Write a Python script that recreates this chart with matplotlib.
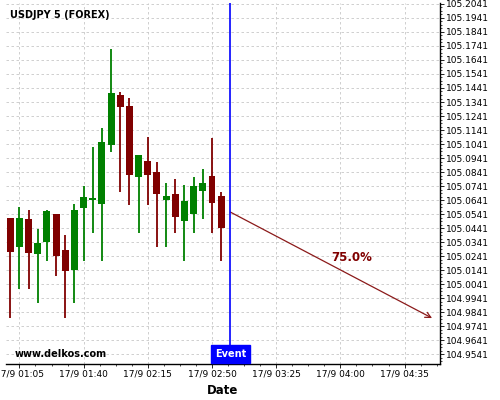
import pandas as pd
import numpy as np
import matplotlib
matplotlib.use("Agg")
import matplotlib.pyplot as plt
import matplotlib.dates as mdates
from matplotlib.ticker import AutoMinorLocator, FixedLocator
import matplotlib.transforms as mtransforms

# 5 minute candles, 17/9
vreme = ["01:00", "01:05", "01:10", "01:15", "01:20", "01:25", "01:30", "01:35",
         "01:40", "01:45", "01:50", "01:55", "02:00", "02:05", "02:10", "02:15",
         "02:20", "02:25", "02:30", "02:35", "02:40", "02:45", "02:50", "02:55"]
odpri = [105.0512, 105.0305, 105.0505, 105.0255, 105.0341, 105.0541, 105.0284, 105.0141,
         105.0584, 105.0641, 105.0612, 105.1034, 105.1391, 105.1312, 105.0805, 105.0920,
         105.0841, 105.0641, 105.0684, 105.0491, 105.0541, 105.0705, 105.0812, 105.0670]
zapri = [105.0272, 105.0512, 105.0262, 105.0334, 105.0562, 105.0241, 105.0134, 105.0570,
         105.0662, 105.0655, 105.1055, 105.1405, 105.1305, 105.0820, 105.0962, 105.0820,
         105.0684, 105.0670, 105.0520, 105.0634, 105.0741, 105.0762, 105.0620, 105.0441]
visoko = [105.0512, 105.0591, 105.0570, 105.0434, 105.0570, 105.0541, 105.0391, 105.0612,
          105.0741, 105.1020, 105.1155, 105.1720, 105.1412, 105.1370, 105.0962, 105.1091,
          105.0912, 105.0762, 105.0791, 105.0748, 105.0805, 105.0862, 105.1084, 105.0698]
nizko = [104.9798, 105.0005, 105.0005, 104.9905, 105.0205, 105.0098, 104.9798, 104.9905,
         105.0205, 105.0405, 105.0205, 105.0984, 105.0698, 105.0605, 105.0405, 105.0605,
         105.0305, 105.0305, 105.0405, 105.0205, 105.0405, 105.0505, 105.0405, 105.0205]

dogodek = "03:00"
puscica_zacetek = ("03:00", 105.0555)
puscica_konec = ("04:50", 104.9798)
napis_cas = ("04:06", 105.0227)
napis = "75.0%"

oznake_x = ["01:05", "01:40", "02:15", "02:50", "03:25", "04:00", "04:35"]
meja_x = ("00:57:40", "04:54:20")
meja_y = (104.9470, 105.2048)
prvi_tick_y = 104.9541

zelena = "#008000"
rdeca = "#800000"


def cas(t):
    return pd.Timestamp("2015-09-17 " + t)


df = pd.DataFrame({"cas": [cas(t) for t in vreme], "o": odpri, "c": zapri,
                   "h": visoko, "l": nizko})

fig = plt.figure(figsize=(5, 4), dpi=100)
ax = fig.add_axes([0.012, 0.09, 0.868, 0.9025])

sirina = pd.Timedelta(minutes=3.8)
for _, r in df.iterrows():
    barva = zelena if r["c"] >= r["o"] else rdeca
    ax.vlines(r["cas"], r["l"], r["h"], color=barva, linewidth=1.3, zorder=3)
    spodaj = min(r["o"], r["c"])
    visina = max(abs(r["c"] - r["o"]), 0.0003)
    ax.bar(r["cas"], visina, bottom=spodaj, width=sirina, color=barva, zorder=4)

# event line
ax.axvline(cas(dogodek), color="blue", linewidth=1.2, zorder=5)
tr = mtransforms.blended_transform_factory(ax.transData, ax.transAxes)
ax.text(cas(dogodek), 0.013, "Event", transform=tr, ha="center", va="bottom",
        color="white", fontsize=7, fontweight="bold", zorder=6,
        bbox=dict(facecolor="blue", edgecolor="blue", boxstyle="square,pad=0.4"))

# forecast arrow
ax.annotate("", xy=(cas(puscica_konec[0]), puscica_konec[1]),
            xytext=(cas(puscica_zacetek[0]), puscica_zacetek[1]),
            arrowprops=dict(arrowstyle="->", color="#8b1a1a", lw=0.9,
                            shrinkA=0, shrinkB=0, mutation_scale=10))
ax.text(cas(napis_cas[0]), napis_cas[1], napis, color=rdeca, fontsize=8.5,
        fontweight="bold", ha="center", va="center")

ax.text(0.009, 0.967, "USDJPY 5 (FOREX)", transform=ax.transAxes, fontsize=7,
        fontweight="bold", va="center", ha="left")
ax.text(0.021, 0.028, "www.delkos.com", transform=ax.transAxes, fontsize=7,
        fontweight="bold", va="center", ha="left")

# axes
ax.set_xlim(cas(meja_x[0]), cas(meja_x[1]))
ax.set_ylim(*meja_y)
ax.xaxis.set_major_locator(FixedLocator([mdates.date2num(cas(t)) for t in oznake_x]))
ax.set_xticklabels(["17/9 " + t for t in oznake_x])
ax.xaxis.set_minor_locator(AutoMinorLocator(4))
ax.yaxis.set_major_locator(FixedLocator(np.arange(prvi_tick_y, meja_y[1], 0.01)))
ax.yaxis.set_major_formatter(plt.FuncFormatter(lambda v, p: "%.4f" % v))
ax.yaxis.set_minor_locator(AutoMinorLocator(4))
ax.yaxis.tick_right()

ax.tick_params(axis="both", which="major", labelsize=6.5, length=3, width=0.6, pad=1)
ax.tick_params(axis="both", which="minor", length=1.5, width=0.5)

ax.spines["top"].set_visible(False)
ax.spines["left"].set_visible(False)
ax.spines["right"].set_linewidth(1)
ax.spines["bottom"].set_linewidth(1)

ax.grid(True, which="major", color="#c8c8c8", linestyle=(0, (3, 3)), linewidth=0.6)
ax.set_axisbelow(True)

ax.set_xlabel("Date", fontsize=8.5, fontweight="bold", labelpad=4)

fig.savefig("out.png", dpi=100)
